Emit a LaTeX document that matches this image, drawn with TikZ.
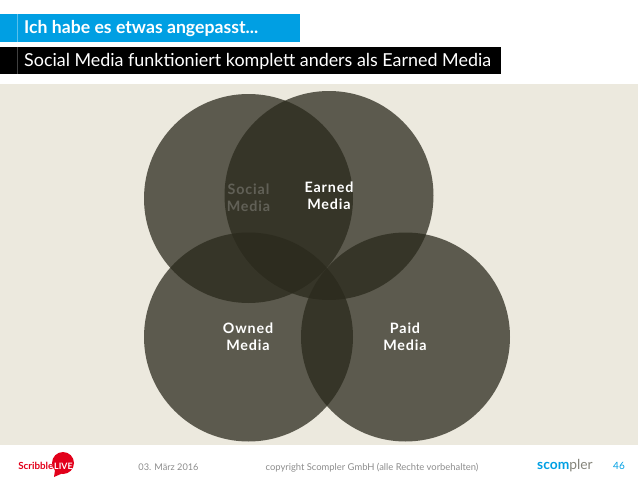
\documentclass[tikz,border=0pt]{standalone}
\usepackage{fontspec}
\setmainfont{Lato}
\newfontfamily\spaced[LetterSpace=6]{Lato}
\usetikzlibrary{positioning}
\definecolor{balken}{HTML}{009FE3}
\definecolor{grund}{HTML}{ECE9DE}
\definecolor{kreis}{HTML}{2A291C}
\definecolor{fuss}{HTML}{8C8C8C}
\definecolor{rot}{HTML}{E2001A}
\definecolor{grau}{HTML}{85847A}
\tikzset{
  venn/.style={fill=kreis,fill opacity=0.74},
  vennlabel/.style={align=center,text=white,font=\spaced\bfseries\fontsize{14.3}{17}\selectfont},
  fusstext/.style={anchor=base,text=fuss,font=\fontsize{9.2}{11}\selectfont}
}
\begin{document}
\begin{tikzpicture}[x=1pt,y=-1pt]
    \useasboundingbox (0,0) rectangle (638,479);
    % Titelbalken
    \fill[balken] (0,14) rectangle (300,42);
    \draw[white,opacity=0.35,line width=0.5pt] (17.5,14) -- (17.5,42);
    \node[right,inner sep=0pt,white,font=\bfseries\fontsize{17.65}{20}\selectfont] (titel) at (24,29) {Ich habe es etwas angepasst...};
    \fill[black] (0,47) rectangle (501,74);
    \draw[gray,opacity=0.5,line width=0.5pt] (17.5,47) -- (17.5,74);
    \node[right,inner sep=0pt,white,font=\fontsize{17.9}{20}\selectfont] (untertitel) at (24,61) {Social Media funktioniert komplett anders als Earned Media};
    % Hintergrund
    \fill[grund] (0,84) rectangle (638,445);
    % Kreise, jeder Text liegt unter dem folgenden Kreis
    \fill[venn] (248.5,198.5) circle (104.5);
    \node[vennlabel] (social) at (248.5,198) {Social\\Media};
    \fill[venn] (329,195.5) circle (104.5);
    \node[vennlabel] (earned) at (329,195.5) {Earned\\Media};
    \fill[venn] (248.5,337) circle (104.5);
    \node[vennlabel] (owned) at (248,337) {Owned\\Media};
    \fill[venn] (405.5,337) circle (104.5);
    \node[vennlabel] (paid) at (405,337) {Paid\\Media};
    % Fusszeile
    \fill[rot] (63,463) circle (11);
    \fill[rot] (55,470) -- (62,473.5) -- (54,477) -- cycle;
    \node[left,inner sep=0pt,rot,font=\bfseries\fontsize{9.8}{12}\selectfont] (scribble) at (53.5,466) {Scribble};
    \node[right=0.5pt of scribble,inner sep=0pt,white,font=\bfseries\fontsize{8.8}{12}\selectfont] (live) {LIVE};
    \node[fusstext] (datum) at (168.5,470) {03. März 2016};
    \node[fusstext,font=\fontsize{9.4}{11}\selectfont] (copy) at (372,470) {copyright Scompler GmbH (alle Rechte vorbehalten)};
    \node[right,inner sep=0pt,font=\fontsize{13.8}{18}\selectfont] (scompler) at (537,466) {\textcolor{balken}{\textbf{scom}}\textcolor{grau}{pler}};
    \node[balken,font=\fontsize{10}{12}\selectfont] (seite) at (619,466) {46};
  \end{tikzpicture}
\end{document}
